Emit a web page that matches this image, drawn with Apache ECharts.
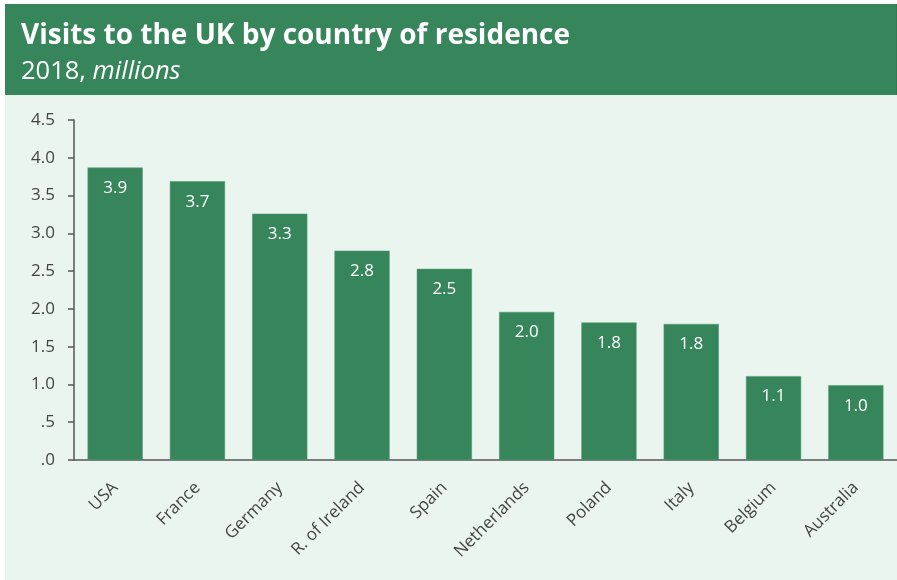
<!DOCTYPE html>
<html>
<head>
<meta charset="utf-8">
<script src="https://cdn.jsdelivr.net/npm/echarts@6/dist/echarts.min.js"></script>
<style>
  html, body { margin: 0; padding: 0; background: #ffffff; }
  #chart { width: 897px; height: 580px; }
</style>
</head>
<body>
<div id="chart"></div>
<script>
// Visits to the UK by country of residence, 2018 (millions)
const countries = ['USA', 'France', 'Germany', 'R. of Ireland', 'Spain',
                   'Netherlands', 'Poland', 'Italy', 'Belgium', 'Australia'];
const visits = [3.87, 3.69, 3.26, 2.77, 2.53, 1.96, 1.82, 1.80, 1.11, 0.99];
const yTicks = [0, 0.5, 1, 1.5, 2, 2.5, 3, 3.5, 4, 4.5];

const FONT = '"Open Sans", "Noto Sans", sans-serif';
const GREEN = '#37865b';
const PANEL = '#ebf5ef';

const chart = echarts.init(document.getElementById('chart'), null, { renderer: 'canvas' });

chart.setOption({
  animation: false,
  backgroundColor: '#ffffff',
  graphic: [
    { type: 'rect', z: -10, shape: { x: 5, y: 4, width: 892, height: 576 }, style: { fill: PANEL } },
    { type: 'rect', z: -9, shape: { x: 5, y: 4, width: 891, height: 91 }, style: { fill: GREEN } },
    { type: 'rect', z: -9, shape: { x: 896, y: 4, width: 1, height: 91 }, style: { fill: '#2f7a50' } },
    {
      type: 'text', left: 21, top: 22,
      style: {
        text: 'Visits to the UK by country of residence',
        fill: '#ffffff', font: 'bold 28px ' + FONT
      }
    },
    {
      type: 'text', left: 21, top: 59,
      style: {
        text: '{a|2018, }{b|millions}',
        rich: {
          a: { fill: '#ffffff', fontSize: 25.5, fontFamily: FONT },
          b: { fill: '#ffffff', fontSize: 25.5, fontFamily: FONT, fontStyle: 'italic' }
        }
      }
    }
  ],
  grid: { left: 74, right: -3, top: 120, bottom: 120, containLabel: false },
  xAxis: {
    type: 'category',
    data: countries,
    axisLine: { show: true, lineStyle: { color: '#555555', width: 1.5 } },
    axisTick: { show: false },
    axisLabel: {
      rotate: 45, margin: 25, interval: 0,
      color: '#444444', fontSize: 17, fontFamily: FONT
    }
  },
  yAxis: {
    type: 'value',
    min: 0, max: 4.5, interval: 0.5,
    splitLine: { show: false },
    axisLine: { show: true, lineStyle: { color: '#555555', width: 1.5 } },
    axisTick: { show: true, length: 6, lineStyle: { color: '#555555', width: 1.5 } },
    axisLabel: {
      margin: 19, color: '#444444', fontSize: 17, fontFamily: FONT,
      formatter: v => yTicks.includes(v) ? v.toFixed(1).replace(/^0/, '') : ''
    }
  },
  series: [{
    type: 'bar',
    data: visits,
    barWidth: '67%',
    itemStyle: { color: GREEN, borderColor: '#4a9870', borderWidth: 0.5 },
    label: {
      show: true, position: 'insideTop', distance: 12,
      color: '#ffffff', fontSize: 17, fontFamily: FONT,
      formatter: p => p.value.toFixed(1)
    }
  }]
});
</script>
</body>
</html>
